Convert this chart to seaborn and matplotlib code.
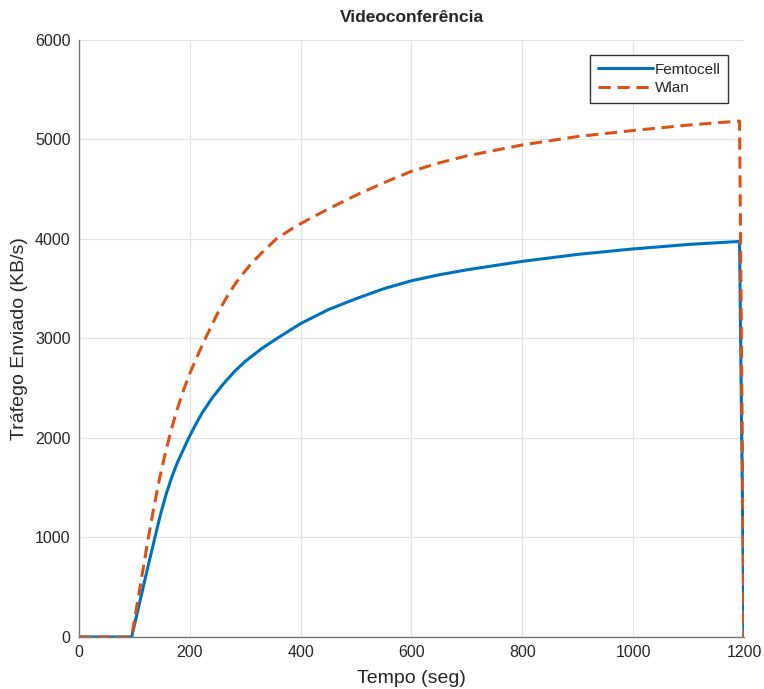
import pandas as pd
import matplotlib.pyplot as plt
import seaborn as sns

# values
t_femto = [0, 95, 105, 115, 125, 137, 147, 157, 167, 177, 188, 198, 210, 222, 240, 260, 280,
           300, 330, 360, 400, 450, 500, 550, 600, 650, 700, 800, 900, 1000, 1100, 1192, 1200]
femtocell = [0, 0, 240, 480, 720, 1000, 1230, 1430, 1600, 1745, 1880, 2000, 2130, 2250, 2400,
             2540, 2665, 2770, 2900, 3010, 3150, 3290, 3400, 3500, 3580, 3640, 3690, 3775,
             3845, 3900, 3945, 3975, 0]

t_wlan = [0, 95, 105, 115, 125, 135, 145, 155, 165, 175, 186, 200, 215, 228, 249, 265, 282,
          300, 312, 335, 356, 386, 420, 460, 500, 550, 600, 650, 700, 800, 900, 1000, 1100,
          1192, 1200]
wlan = [0, 0, 330, 660, 990, 1300, 1580, 1830, 2050, 2250, 2440, 2650, 2840, 3000, 3240, 3400,
        3550, 3680, 3760, 3890, 4000, 4110, 4215, 4330, 4440, 4565, 4680, 4765, 4835, 4945,
        5030, 5090, 5145, 5185, 0]

df = pd.concat([
    pd.DataFrame({'tempo': t_femto, 'trafego': femtocell, 'serie': 'Femtocell'}),
    pd.DataFrame({'tempo': t_wlan, 'trafego': wlan, 'serie': 'Wlan'}),
], ignore_index=True)

sns.set_style('white')
plt.rcParams['font.family'] = ['Liberation Sans', 'DejaVu Sans']

fig = plt.figure(figsize=(7.64, 6.89), dpi=100)
ax = fig.add_axes([0.1034, 0.0755, 0.8704, 0.8665])

sns.lineplot(data=df, x='tempo', y='trafego', hue='serie', style='serie',
             palette={'Femtocell': '#0072BD', 'Wlan': '#D95319'},
             dashes={'Femtocell': '', 'Wlan': (4, 2.2)},
             linewidth=2.2, sort=False, estimator=None, ax=ax)

ax.set_xlim(0, 1200)
ax.set_ylim(0, 6000)
ax.set_xticks(range(0, 1201, 200))
ax.set_yticks(range(0, 6001, 1000))
ax.grid(True, color='#e3e3e3', linewidth=0.9)
ax.set_axisbelow(True)
for s in ['top', 'right']:
    ax.spines[s].set_visible(False)
for s in ['left', 'bottom']:
    ax.spines[s].set_color('#777777')
    ax.spines[s].set_linewidth(1.0)
ax.tick_params(direction='in', length=4, color='#777777', labelsize=11.5,
               labelcolor='#262626', pad=6)

ax.set_title('Videoconferência', fontsize=12.5, fontweight='bold', pad=13)
ax.set_xlabel('Tempo (seg)', fontsize=14, color='#262626', labelpad=7)
ax.set_ylabel('Tráfego Enviado (KB/s)', fontsize=14, color='#262626', labelpad=5)

leg = ax.legend(loc='upper right', bbox_to_anchor=(0.976, 0.975), fontsize=11,
                handlelength=3.6, handletextpad=0.1, borderpad=0.5,
                labelspacing=0.3, fancybox=False, framealpha=1, borderaxespad=0)
leg.get_frame().set_edgecolor('#333333')
leg.get_frame().set_linewidth(1.0)

fig.savefig('out.png', dpi=100)
